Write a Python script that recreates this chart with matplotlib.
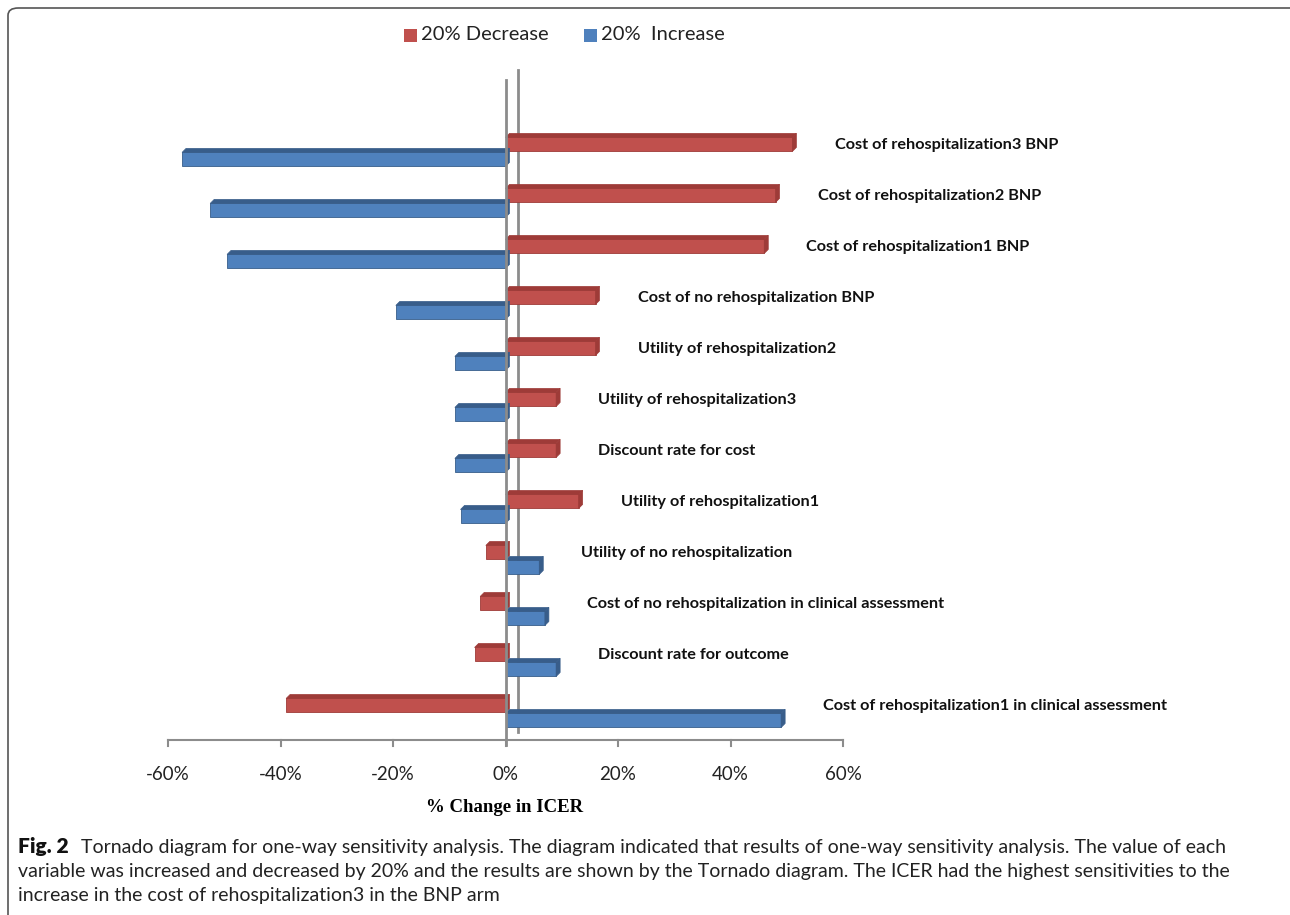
import matplotlib
matplotlib.use("Agg")
import matplotlib.pyplot as plt
from matplotlib.patches import Polygon, FancyBboxPatch, Rectangle

# data (% change in ICER)
variables = [
    "Cost of rehospitalization3 BNP",
    "Cost of rehospitalization2 BNP",
    "Cost of rehospitalization1 BNP",
    "Cost of no rehospitalization BNP",
    "Utility of rehospitalization2",
    "Utility of rehospitalization3",
    "Discount rate for cost",
    "Utility of rehospitalization1",
    "Utility of no rehospitalization",
    "Cost of no rehospitalization in clinical assessment",
    "Discount rate for outcome",
    "Cost of rehospitalization1 in clinical assessment",
]
decrease_20 = [51, 48, 46, 16, 16, 9, 9, 13, -3.5, -4.5, -5.5, -39]
increase_20 = [-57.5, -52.5, -49.5, -19.5, -9, -9, -9, -8, 6, 7, 9, 49]
xticks = [-60, -40, -20, 0, 20, 40, 60]

W, H = 1290, 915
fig = plt.figure(figsize=(W / 100, H / 100), dpi=100)

# axes placed in pixels: x -60..60 -> 168..843, y top 80, bottom 740
ax = fig.add_axes([168 / W, (H - 740) / H, 675 / W, 660 / H])
ax.set_xlim(-60, 60)
ax.set_ylim(11.53, -1.41)
ax.axis("off")

px_x = 120 / 675.0   # data units per pixel, x
px_y = 1 / 51.0      # data units per pixel, y
ddx, ddy = 4 * px_x, 4 * px_y   # 3D depth offset
bar_h = 14 * px_y

red, red_dk = "#C0504D", "#9E3B38"
blue, blue_dk = "#4F81BD", "#385D8A"


def bar3d(y, v, front, dark):
    x0, x1 = min(0, v), max(0, v)
    top, bot = y - bar_h / 2, y + bar_h / 2
    ax.barh(y, v, height=bar_h, left=0, color=front, edgecolor=dark,
            linewidth=0.6, zorder=3)
    ax.add_patch(Polygon([(x0, top), (x1, top), (x1 + ddx, top - ddy),
                          (x0 + ddx, top - ddy)], closed=True,
                         facecolor=dark, edgecolor=dark, lw=0.5, zorder=3))
    ax.add_patch(Polygon([(x1, top), (x1, bot), (x1 + ddx, bot - ddy),
                          (x1 + ddx, top - ddy)], closed=True,
                         facecolor=dark, edgecolor=dark, lw=0.5, zorder=3))


# back wall line and front zero line
ax.plot([12 * px_x, 12 * px_x], [-1.61, 11.37], color="#8C8C8C", lw=2,
        zorder=1, clip_on=False)
for i, name in enumerate(variables):
    bar3d(i - 7.5 * px_y, decrease_20[i], red, red_dk)
    bar3d(i + 7.5 * px_y, increase_20[i], blue, blue_dk)
    xl = max(decrease_20[i], increase_20[i], 0) + 7.5
    ax.text(xl, i - 7 * px_y, name, ha="left", va="center", fontsize=11.7,
            fontweight="bold", family="Lato", color="#111111")
ax.plot([0, 0], [-1.41, 11.53 + 5 * px_y], color="#8C8C8C", lw=2,
        zorder=4, clip_on=False)

# x axis
ax.plot([-60, 60], [11.53, 11.53], color="#8C8C8C", lw=1.5, clip_on=False)
for t in xticks:
    ax.plot([t, t], [11.53, 11.53 + 6 * px_y], color="#8C8C8C", lw=1.5,
            clip_on=False)
    ax.text(t, 11.53 + 34 * px_y, f"{t}%", ha="center", va="center",
            fontsize=13.5, family="Lato", color="#222222")

fig.text(505 / W, 1 - 807 / H, "% Change in ICER", ha="center", va="center",
         fontsize=13.5, fontweight="bold", family="Liberation Serif")

# legend
fig.patches.append(Rectangle((404 / W, 1 - 42 / H), 13 / W, 13 / H,
                             transform=fig.transFigure, facecolor=red,
                             edgecolor="none"))
fig.text(421 / W, 1 - 35 / H, "20% Decrease", ha="left", va="center",
         fontsize=14.5, family="Lato", color="#222222")
fig.patches.append(Rectangle((584 / W, 1 - 42 / H), 13 / W, 13 / H,
                             transform=fig.transFigure, facecolor=blue,
                             edgecolor="none"))
fig.text(601 / W, 1 - 35 / H, "20%  Increase", ha="left", va="center",
         fontsize=14.5, family="Lato", color="#222222")

# frame
fig.patches.append(FancyBboxPatch((8 / W, -10 / H), 1300 / W, (H - 8 + 10) / H,
                                  boxstyle="round,pad=0,rounding_size=0.008",
                                  transform=fig.transFigure, facecolor="none",
                                  edgecolor="#555555", lw=1.2))

# caption
cap = [
    "Tornado diagram for one-way sensitivity analysis. The diagram indicated that results of one-way sensitivity analysis. The value of each",
    "variable was increased and decreased by 20% and the results are shown by the Tornado diagram. The ICER had the highest sensitivities to the",
    "increase in the cost of rehospitalization3 in the BNP arm",
]
fig.text(18 / W, 1 - 847 / H, "Fig. 2", ha="left", va="center", fontsize=15,
         fontweight="heavy", family="Lato", color="#111111")
fig.text(81 / W, 1 - 847 / H, cap[0], ha="left", va="center", fontsize=14,
         family="Lato", color="#222222")
fig.text(18 / W, 1 - 871 / H, cap[1], ha="left", va="center", fontsize=14,
         family="Lato", color="#222222")
fig.text(18 / W, 1 - 895 / H, cap[2], ha="left", va="center", fontsize=14,
         family="Lato", color="#222222")

fig.savefig("out.png", dpi=100)
